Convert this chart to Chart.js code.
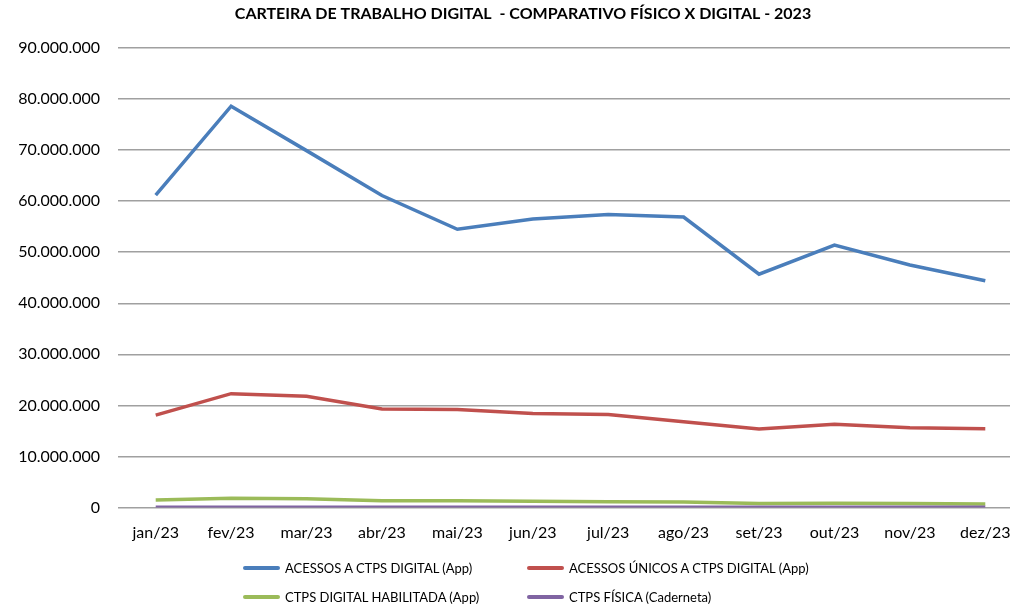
<!DOCTYPE html>
<html>
<head>
<meta charset="utf-8">
<script src="https://cdn.jsdelivr.net/npm/chart.js@4/dist/chart.umd.min.js"></script>
<style>
  html, body { margin: 0; padding: 0; background: #fff; overflow: hidden; }
  #wrap { position: relative; width: 1046px; height: 611px; }
  #legend { position: absolute; left: 243px; top: 558px; font-family: Lato, sans-serif; font-size: 13px; color: #000;
    display: grid; grid-template-columns: 284px 284px; row-gap: 9px; }
  #legend .item { display: flex; align-items: center; height: 20px; white-space: nowrap; }
  #legend .swatch { width: 37px; height: 4px; border-radius: 2px; margin-right: 5px; }
</style>
</head>
<body>
<div id="wrap">
  <canvas id="ctpsChart"></canvas>
  <div id="legend"></div>
</div>
<script>
const titulo = 'CARTEIRA DE TRABALHO DIGITAL  - COMPARATIVO FÍSICO X DIGITAL - 2023';
const meses = ['jan/23', 'fev/23', 'mar/23', 'abr/23', 'mai/23', 'jun/23', 'jul/23', 'ago/23', 'set/23', 'out/23', 'nov/23', 'dez/23'];

const acessos = [61200000, 78600000, 69900000, 61100000, 54500000, 56500000, 57400000, 56900000, 45700000, 51400000, 47500000, 44400000];
const acessosUnicos = [18100000, 22300000, 21800000, 19300000, 19200000, 18400000, 18200000, 16800000, 15400000, 16300000, 15600000, 15400000];
const habilitada = [1470000, 1800000, 1700000, 1300000, 1300000, 1200000, 1150000, 1100000, 800000, 850000, 800000, 700000];
const fisica = [40000, 45000, 45000, 40000, 40000, 40000, 35000, 35000, 30000, 30000, 30000, 30000];

const nomes = ['ACESSOS A CTPS DIGITAL (App)', 'ACESSOS ÚNICOS A CTPS DIGITAL (App)', 'CTPS DIGITAL HABILITADA (App)', 'CTPS FÍSICA (Caderneta)'];
const cores = ['#4a7ebb', '#c0504d', '#9bbb59', '#8064a2'];

const fmt = v => String(Math.round(v)).replace(/\B(?=(\d{3})+(?!\d))/g, '.');

const series = [acessos, acessosUnicos, habilitada, fisica];
const datasets = series.map((data, i) => ({
  label: nomes[i],
  data,
  borderColor: cores[i],
  backgroundColor: cores[i],
  borderWidth: 3.5,
  pointRadius: 0,
  tension: 0,
  order: 4 - i
}));

// title centred on the whole canvas (Excel centres it on the chart, not the plot)
const tituloPlugin = {
  id: 'tituloCentro',
  afterDraw(chart) {
    const ctx = chart.ctx;
    ctx.save();
    ctx.font = 'bold 16px Lato';
    ctx.fillStyle = '#000';
    ctx.textAlign = 'center';
    ctx.textBaseline = 'middle';
    ctx.fillText(titulo, chart.width / 2, 14);
    ctx.restore();
  }
};

const chart = new Chart(document.getElementById('ctpsChart'), {
  type: 'line',
  data: { labels: meses, datasets },
  plugins: [tituloPlugin],
  options: {
    responsive: true,
    maintainAspectRatio: false,
    animation: false,
    layout: { padding: { left: 0, right: 23, top: 48, bottom: 0 } },
    plugins: {
      legend: { display: false },
      tooltip: { enabled: false },
      title: { display: false }
    },
    scales: {
      x: {
        offset: true,
        grid: { display: false, drawTicks: false },
        border: { display: false },
        ticks: { color: '#000', font: { family: 'Lato', size: 16 }, padding: 16, maxRotation: 0 },
        afterFit(scale) { scale.height = 103.5; }
      },
      y: {
        min: 0,
        max: 90000000,
        grid: { color: '#a0a0a0', lineWidth: 1.5, drawTicks: false },
        border: { display: false },
        ticks: { stepSize: 10000000, color: '#000', font: { family: 'Lato', size: 16 }, padding: 18, callback: v => fmt(v) },
        afterFit(scale) { scale.width = 118; }
      }
    }
  }
});

const legend = document.getElementById('legend');
chart.data.datasets.forEach(ds => {
  const item = document.createElement('div');
  item.className = 'item';
  item.innerHTML = `<span class="swatch" style="background:${ds.borderColor}"></span><span>${ds.label}</span>`;
  legend.appendChild(item);
});
</script>
</body>
</html>
